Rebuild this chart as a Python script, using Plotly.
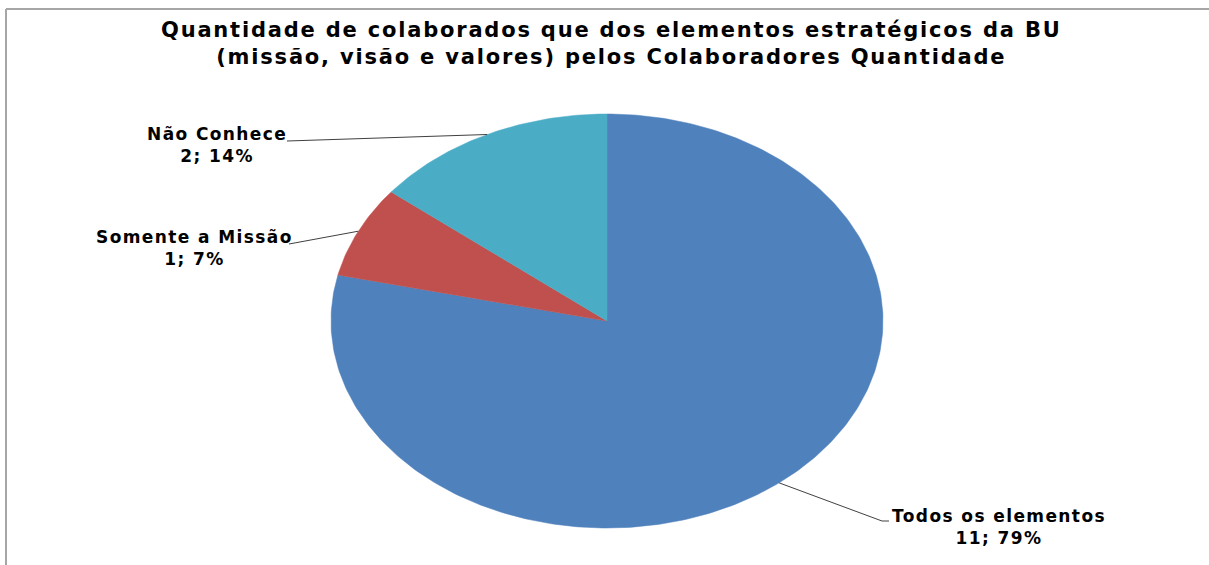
import math
import plotly.graph_objects as go

# ---- data ----
categories = ["Todos os elementos", "Somente a Missão", "Não Conhece"]
values = [11, 1, 2]
colors = ["#4F81BD", "#C0504D", "#4BACC6"]
title_lines = ["Quantidade de colaborados que dos elementos estratégicos da BU",
               "(missão, visão e valores) pelos Colaboradores Quantidade"]

# ---- layout geometry (pixels) ----
W, H = 1209, 565
CX, CY = 607, 321          # pie centre in pixels
RX, RY = 276, 207          # stretched (elliptical) pie radii in pixels

def px2x(px):
    return (px - CX) / RX

def py2y(py):
    return (CY - py) / RY

def spaced(s, ls):
    return f'<span style="letter-spacing:{ls}px">{s}</span>'

FONT = "DejaVu Sans"
total = sum(values)

fig = go.Figure()

# slices, clockwise from 12 o'clock, drawn in unit-circle data space
start = 0.0
mids = []
for cat, val, col in zip(categories, values, colors):
    frac = val / total
    end = start + frac * 2 * math.pi
    n = max(4, int(400 * frac))
    xs, ys = [0.0], [0.0]
    for i in range(n + 1):
        a = start + (end - start) * i / n
        xs.append(math.sin(a))
        ys.append(math.cos(a))
    xs.append(0.0)
    ys.append(0.0)
    fig.add_trace(go.Scatter(x=xs, y=ys, mode="lines", fill="toself",
                             fillcolor=col, line=dict(color=col, width=0.5),
                             hoverinfo="text", text=f"{cat}: {val}",
                             showlegend=False))
    mids.append((start + end) / 2)
    start = end

# label placement (pixels): text-block centre and leader end points
label_pos = {
    "Não Conhece": dict(center=(217, 145), leader=[(287, 141)]),
    "Somente a Missão": dict(center=(194, 248), leader=[(289, 244)]),
    "Todos os elementos": dict(center=(999, 527), leader=[(882, 521), (889, 521)]),
}

for cat, val, mid in zip(categories, values, mids):
    pct = round(100 * val / total)
    info = label_pos[cat]
    ex, ey = math.sin(mid), math.cos(mid)
    lx = [ex] + [px2x(p[0]) for p in info["leader"]]
    ly = [ey] + [py2y(p[1]) for p in info["leader"]]
    fig.add_trace(go.Scatter(x=lx, y=ly, mode="lines",
                             line=dict(color="#404040", width=1),
                             hoverinfo="skip", showlegend=False))
    cx, cy = info["center"]
    fig.add_annotation(x=px2x(cx), y=py2y(cy), xref="x", yref="y",
                       text=spaced(cat, 1.4) + "<br>" + spaced(f"{val}; {pct}%", 1.4),
                       showarrow=False,
                       align="center", xanchor="center", yanchor="middle",
                       font=dict(family=FONT, size=17, color="#000000", weight="bold"))

# title
fig.add_annotation(x=px2x(611), y=py2y(43), xref="x", yref="y",
                   text="<br>".join(spaced(t, 1.8) for t in title_lines),
                   showarrow=False,
                   align="center", xanchor="center", yanchor="middle",
                   font=dict(family=FONT, size=21, color="#000000", weight="bold"))

# chart-area border (top and left edges visible)
fig.add_shape(type="line", xref="paper", yref="paper",
              x0=6 / W, x1=1.0, y0=1 - 9 / H, y1=1 - 9 / H,
              line=dict(color="#A6A6A6", width=2))
fig.add_shape(type="line", xref="paper", yref="paper",
              x0=6 / W, x1=6 / W, y0=1 - 9 / H, y1=0,
              line=dict(color="#A6A6A6", width=2))

fig.update_layout(
    width=W, height=H,
    margin=dict(l=0, r=0, t=0, b=0),
    paper_bgcolor="white", plot_bgcolor="white",
    xaxis=dict(range=[px2x(0), px2x(W)], visible=False, fixedrange=True),
    yaxis=dict(range=[py2y(H), py2y(0)], visible=False, fixedrange=True),
    showlegend=False,
)

fig.write_html("out.html")
